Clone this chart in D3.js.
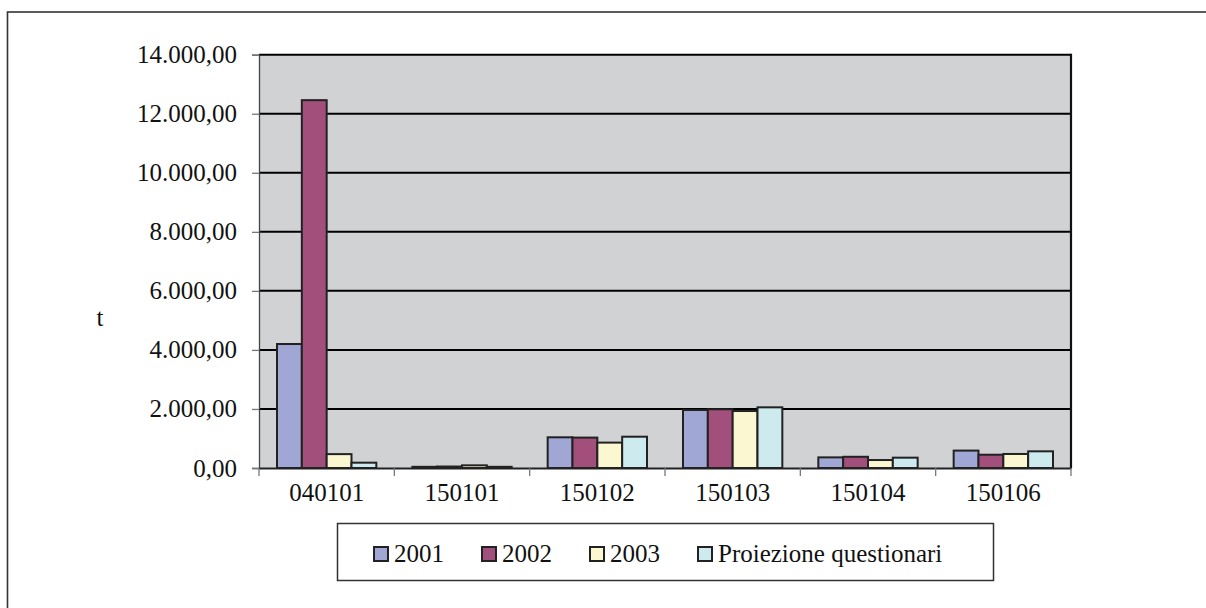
<!DOCTYPE html>
<html>
<head>
<meta charset="utf-8">
<script src="https://cdn.jsdelivr.net/npm/d3@7"></script>
<style>
  html, body { margin: 0; padding: 0; background: #fff; }
  svg { display: block; }
  text { font-family: "Liberation Serif", "Times New Roman", serif; fill: #111; }
</style>
</head>
<body>
<svg id="chart" width="1206" height="608"></svg>
<script>
// ---- data ----
const categories = ["040101", "150101", "150102", "150103", "150104", "150106"];
const seriesNames = ["2001", "2002", "2003", "Proiezione questionari"];
const values2001 = [4200, 40, 1040, 1965, 360, 590];
const values2002 = [12460, 50, 1030, 1990, 380, 450];
const values2003 = [470, 90, 860, 1930, 270, 475];
const valuesProiezione = [180, 40, 1060, 2055, 350, 565];
const yTicks = [0, 2000, 4000, 6000, 8000, 10000, 12000, 14000];
const yLabel = "t";

const seriesValues = [values2001, values2002, values2003, valuesProiezione];
const colors = ["#a0a7d5", "#a24f7b", "#faf7d1", "#cdeaee"];

// ---- layout ----
const FS = 25;
const svg = d3.select("#chart");
const plot = { left: 259, right: 1071, top: 54.7, bottom: 468 };

const locale = d3.formatLocale({ decimal: ",", thousands: ".", grouping: [3], currency: ["€", ""] });
const fmt = locale.format(",.2f");

const x = d3.scaleBand().domain(categories).range([plot.left, plot.right]).padding(0);
const xInner = d3.scaleBand().domain(seriesNames).range([18, x.bandwidth() - 18]).padding(0);
const y = d3.scaleLinear().domain([0, 14000]).range([plot.bottom, plot.top]);

// outer frame
svg.append("rect")
  .attr("x", 7.5).attr("y", 12).attr("width", 1230).attr("height", 640)
  .attr("fill", "none").attr("stroke", "#333").attr("stroke-width", 1.6);

// plot background
svg.append("rect")
  .attr("x", plot.left).attr("y", plot.top)
  .attr("width", plot.right - plot.left).attr("height", plot.bottom - plot.top)
  .attr("fill", "#d1d2d4");

// gridlines
svg.append("g").selectAll("line").data(yTicks.filter(d => d > 0)).join("line")
  .attr("x1", plot.left).attr("x2", plot.right)
  .attr("y1", d => y(d)).attr("y2", d => y(d))
  .attr("stroke", "#000").attr("stroke-width", 2);

// right border of plot area
svg.append("line")
  .attr("x1", plot.right).attr("x2", plot.right)
  .attr("y1", plot.top - 1).attr("y2", plot.bottom)
  .attr("stroke", "#111").attr("stroke-width", 2.2);

// bars
const groups = svg.append("g").selectAll("g").data(categories).join("g")
  .attr("transform", d => `translate(${x(d)},0)`);
groups.selectAll("rect")
  .data((c, i) => seriesNames.map((s, j) => ({ s, j, v: seriesValues[j][i] })))
  .join("rect")
  .attr("x", d => xInner(d.s))
  .attr("width", xInner.bandwidth())
  .attr("y", d => y(d.v))
  .attr("height", d => y(0) - y(d.v))
  .attr("fill", d => colors[d.j])
  .attr("stroke", "#222").attr("stroke-width", 2);

// y axis
const yAxis = svg.append("g")
  .attr("transform", `translate(${plot.left},0)`)
  .call(d3.axisLeft(y).tickValues(yTicks).tickFormat(fmt).tickSize(7).tickPadding(15));
yAxis.attr("font-family", null).attr("font-size", null);
yAxis.select(".domain").attr("stroke", "#444").attr("stroke-width", 1.3);
yAxis.selectAll(".tick line").attr("stroke", "#777").attr("stroke-width", 1.3);
yAxis.selectAll(".tick text").attr("font-size", FS).attr("fill", "#111");

// x axis
const xAxis = svg.append("g")
  .attr("transform", `translate(0,${plot.bottom})`)
  .call(d3.axisBottom(x).tickSize(0).tickPadding(15));
xAxis.attr("font-family", null).attr("font-size", null);
xAxis.select(".domain").attr("stroke", "#222").attr("stroke-width", 2);
xAxis.selectAll(".tick text").attr("font-size", FS).attr("fill", "#111");
// category separator ticks
svg.append("g").selectAll("line").data(d3.range(categories.length + 1)).join("line")
  .attr("x1", i => plot.left + i * x.bandwidth()).attr("x2", i => plot.left + i * x.bandwidth())
  .attr("y1", plot.bottom).attr("y2", plot.bottom + 8)
  .attr("stroke", "#777").attr("stroke-width", 1.3);

// y label
svg.append("text").attr("x", 100).attr("y", 326)
  .attr("text-anchor", "middle").attr("font-size", FS).text(yLabel);

// legend
const legend = svg.append("g");
legend.append("rect")
  .attr("x", 337.5).attr("y", 523.5).attr("width", 656).attr("height", 57)
  .attr("fill", "#fff").attr("stroke", "#333").attr("stroke-width", 1.5);
let lx = 374;
seriesNames.forEach((name, j) => {
  legend.append("rect")
    .attr("x", lx).attr("y", 547).attr("width", 14).attr("height", 14)
    .attr("fill", colors[j]).attr("stroke", "#222").attr("stroke-width", 2);
  const t = legend.append("text")
    .attr("x", lx + 20).attr("y", 561.5).attr("font-size", FS).text(name);
  lx += 20 + t.node().getComputedTextLength() + 38;
});
</script>
</body>
</html>
